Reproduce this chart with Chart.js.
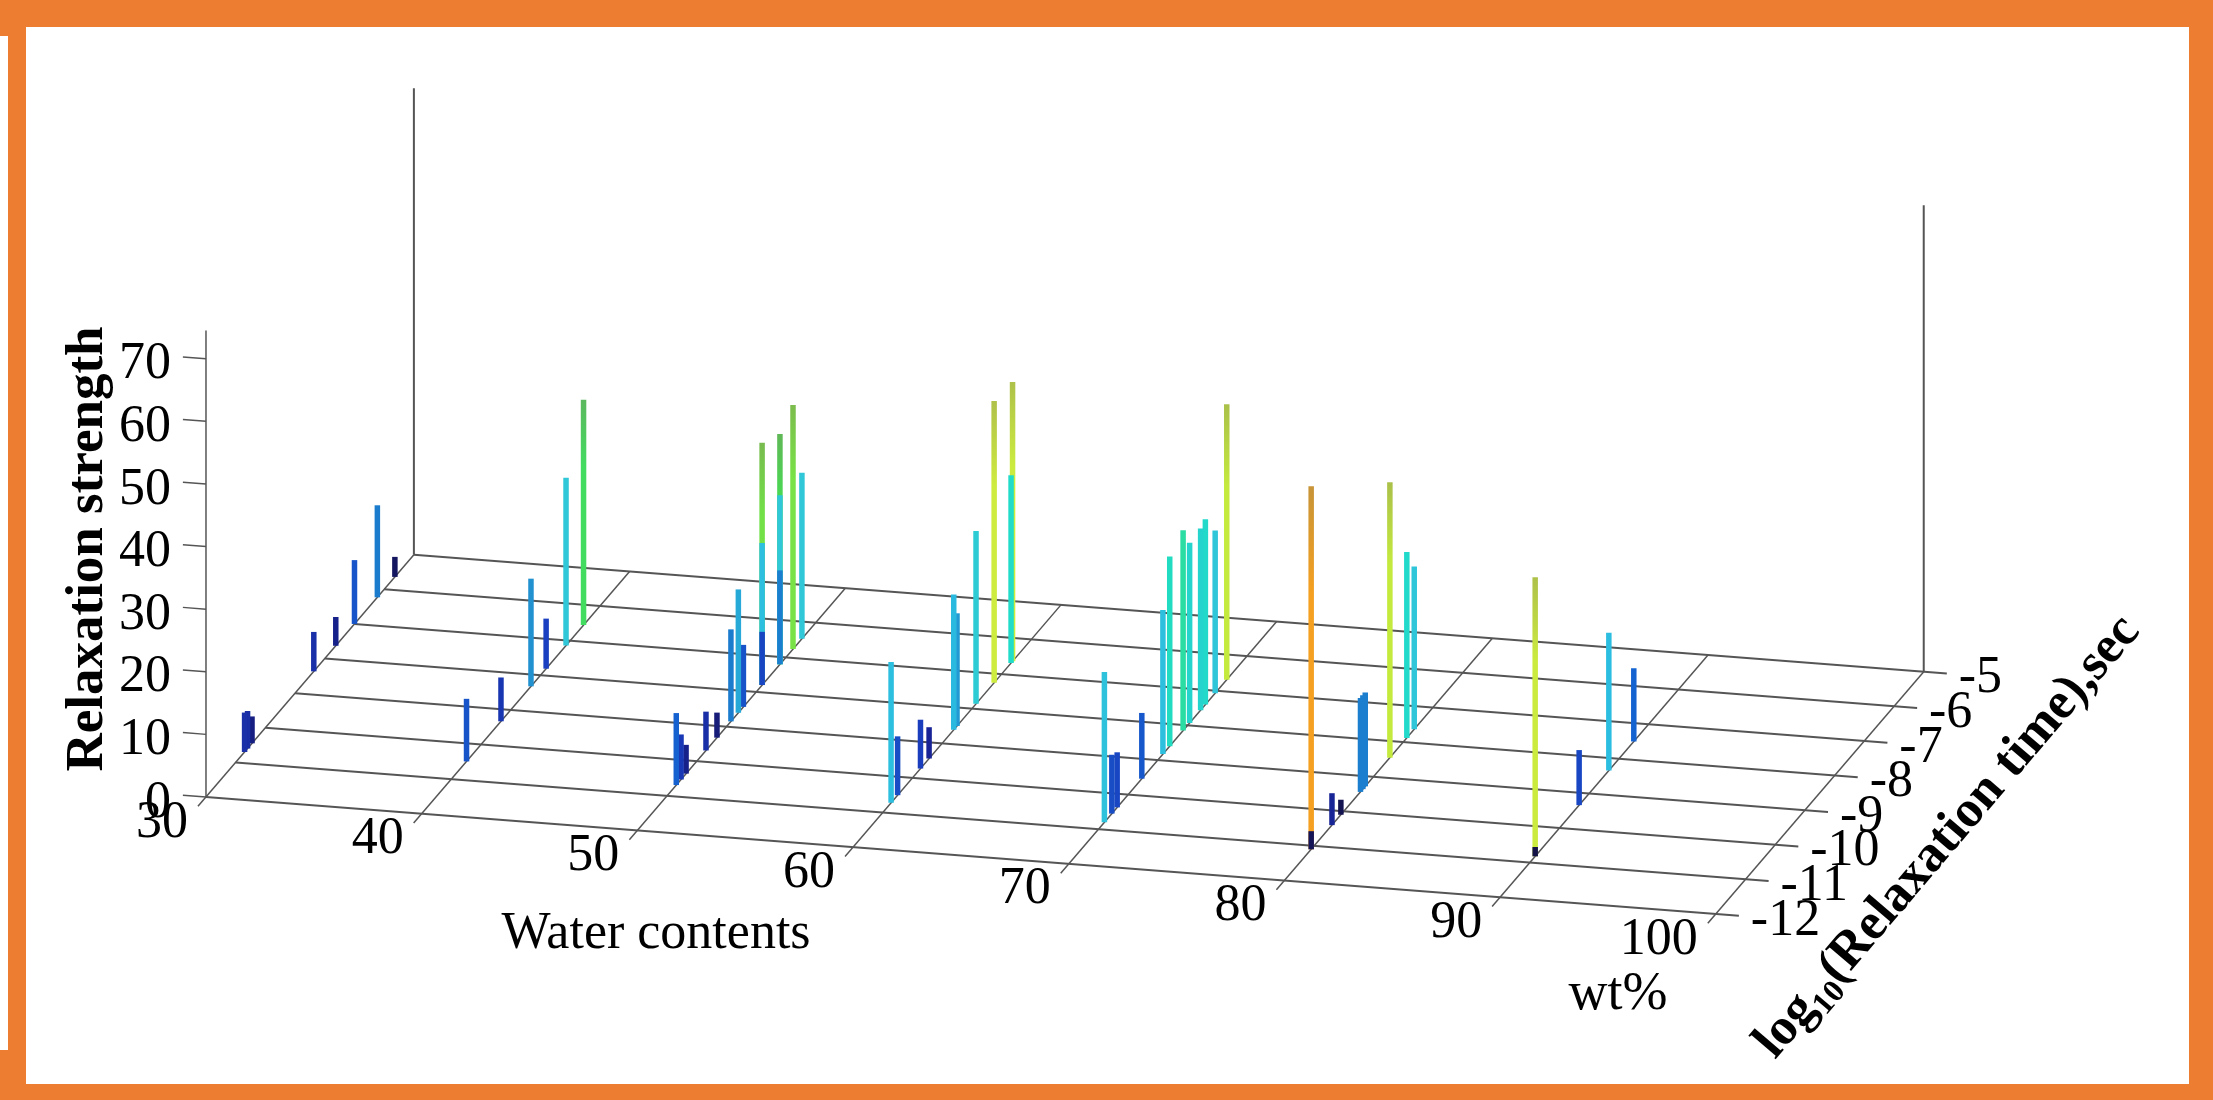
<!DOCTYPE html>
<html>
<head>
<meta charset="utf-8">
<title>Relaxation strength</title>
<script src="https://cdn.jsdelivr.net/npm/chart.js@4"></script>
<style>
  html, body { margin: 0; background: #fff; overflow: hidden; }
  .frame { position: absolute; background: #ed7d31; }
  canvas { position: absolute; left: 0; top: 0; filter: blur(0.5px); }
</style>
</head>
<body>
<div class="frame" style="left:0;top:0;width:2213px;height:27px"></div>
<div class="frame" style="left:8px;top:0;width:18px;height:1100px"></div>
<div class="frame" style="left:0;top:0;width:8px;height:36px"></div>
<div class="frame" style="left:0;top:1050px;width:8px;height:50px"></div>
<div class="frame" style="left:2189px;top:0;width:24px;height:1100px"></div>
<div class="frame" style="left:0;top:1084px;width:2213px;height:16px"></div>
<canvas id="chart" width="2213" height="1100"></canvas>

<script>
const wtTicks = [30, 40, 50, 60, 70, 80, 90, 100];
const timeTicks = [-12, -11, -10, -9, -8, -7, -6, -5];
const strengthTicks = [0, 10, 20, 30, 40, 50, 60, 70];
const axisTop = 74.5;

// one pair of arrays per water content: log10(time) and strength of each peak
const times30 = [-10.7, -10.6, -10.45, -8.37, -7.63, -7.0, -6.23, -5.64];
const strengths30 = [6.3, 6, 4.3, 6.3, 4.6, 10.2, 14.7, 3.2];
const times40 = [-10.49, -9.33, -8.32, -7.81, -7.14, -6.55];
const strengths40 = [10, 7, 17.2, 8, 26.8, 36];
const times50 = [-10.69, -10.53, -10.36, -9.69, -9.32, -8.85, -8.6, -8.43, -7.8, -7.8, -7.8, -7.2, -7.2, -7.2, -6.76, -6.46];
const strengths50 = [11.5, 7.2, 4.6, 6.2, 4, 14.7, 19.7, 9.9, 38.7, 22.7, 8.5, 36.8, 27, 15, 39, 26.5];
const times60 = [-10.72, -10.5, -9.73, -9.44, -8.61, -8.5, -7.86, -7.25, -6.63, -6.68];
const strengths60 = [22.5, 9.4, 7.8, 5, 21.6, 18, 27.6, 45, 44.6, 30];
const times70 = [-10.8, -10.55, -10.37, -9.54, -8.83, -8.6, -8.15, -7.93, -7.56, -7.4, -7.07, -6.68];
const strengths70 = [24, 9.4, 8.8, 10.5, 23, 30.3, 32, 28.8, 29, 29.6, 26, 44];
const times80 = [-11.1, -11.1, -10.4, -10.1, -9.44, -9.36, -9.28, -8.45, -7.88, -7.63];
const strengths80 = [58, 2.9, 5.1, 2.4, 15, 15, 15, 44, 29.7, 26];
const times90 = [-10.82, -10.82, -9.34, -8.34, -7.5];
const strengths90 = [44.6, 1.5, 8.8, 22, 11.7];

const peaks = [
  [30, times30, strengths30],
  [40, times40, strengths40],
  [50, times50, strengths50],
  [60, times60, strengths60],
  [70, times70, strengths70],
  [80, times80, strengths80],
  [90, times90, strengths90],
];

// the box is a parallel projection, so x stays in wt% and y in strength units
function project(wt, time, strength) {
  return {
    x: wt + (time + 12) * 1.377,
    y: strength - (wt - 30) * 0.2668 + (time + 12) * 5.527,
  };
}

const colorStops = [
  [0, [15, 15, 50]], [3, [20, 20, 90]], [5, [24, 36, 150]], [8, [26, 63, 192]], [12, [20, 102, 210]],
  [16, [31, 134, 204]], [22, [44, 190, 224]], [27, [48, 200, 216]], [30, [32, 220, 200]], [33, [48, 220, 144]],
  [37, [72, 220, 80]], [41, [168, 232, 60]], [46, [216, 236, 64]], [52, [240, 192, 48]],
  [58, [245, 160, 32]],
];

function mixAt(strength) {
  for (let i = 1; i < colorStops.length; i++) {
    const [s0, c0] = colorStops[i - 1];
    const [s1, c1] = colorStops[i];
    if (strength <= s1) {
      const f = (strength - s0) / (s1 - s0);
      return c0.map((v, k) => Math.round(v + (c1[k] - v) * f));
    }
  }
  return colorStops[colorStops.length - 1][1];
}

// the tallest stems go dull towards the tip, the rest keep one colour
function stemColor(strength) {
  const c = mixAt(strength);
  const solid = `rgb(${c.join(",")})`;
  if (strength < 36) return solid;
  return context => {
    const { chart, dataset } = context;
    if (!chart.chartArea) return solid;
    const y0 = chart.scales.y.getPixelForValue(dataset.data[1].y);
    const y1 = chart.scales.y.getPixelForValue(dataset.data[0].y);
    const g = chart.ctx.createLinearGradient(0, y0, 0, y1);
    const dull = c.map((v, k) => Math.round(v * 0.6 + [130, 130, 90][k] * 0.4));
    g.addColorStop(0, `rgb(${dull.join(",")})`);
    g.addColorStop(0.3, solid);
    g.addColorStop(1, solid);
    return g;
  };
}

function lineDataset(points, color, width) {
  return {
    data: points,
    showLine: true,
    borderColor: color,
    borderWidth: width,
    pointRadius: 0,
    borderCapStyle: "butt",
  };
}

const gridColor = "#555555";
const wtMin = wtTicks[0];
const wtMax = wtTicks[wtTicks.length - 1];
const timeMin = timeTicks[0];
const timeMax = timeTicks[timeTicks.length - 1];

const gridSets = [];
wtTicks.forEach(wt => {
  gridSets.push(lineDataset([project(wt, timeMin - 0.27, 0), project(wt, timeMax, 0)], gridColor, 1.5));
});
timeTicks.forEach(time => {
  gridSets.push(lineDataset([project(wtMin, time, 0), project(wtMax + 1.07, time, 0)], gridColor, 2));
});
strengthTicks.forEach(s => {
  gridSets.push(lineDataset([project(wtMin - 1.07, timeMin, s), project(wtMin, timeMin, s)], gridColor, 1.5));
});
gridSets.push(lineDataset([project(wtMin, timeMin, 0), project(wtMin, timeMin, axisTop)], gridColor, 1.5));
gridSets.push(lineDataset([project(wtMin, timeMax, 0), project(wtMin, timeMax, axisTop)], gridColor, 2));
gridSets.push(lineDataset([project(wtMax, timeMax, 0), project(wtMax, timeMax, axisTop)], gridColor, 2));

// back peaks first, tall layers before the short ones standing in front of them
const peakSets = [];
peaks.forEach(([wt, times, strengths]) => {
  times
    .map((time, i) => ({ time, strength: strengths[i] }))
    .sort((a, b) => b.time - a.time || b.strength - a.strength)
    .forEach(p => {
      peakSets.push(lineDataset(
        [project(wt, p.time, 0), project(wt, p.time, p.strength)],
        stemColor(p.strength),
        5.5
      ));
    });
});

// Chart.js paints the first dataset last
const datasets = gridSets.concat(peakSets).reverse();

const serif = '"Liberation Serif", "DejaVu Serif", serif';
const inkColor = "#000";

const labelsPlugin = {
  id: "boxLabels",
  afterDraw(chart) {
    const { ctx, scales } = chart;
    const px = p => [scales.x.getPixelForValue(p.x), scales.y.getPixelForValue(p.y)];

    ctx.save();
    ctx.fillStyle = inkColor;
    ctx.textBaseline = "middle";
    ctx.font = `52px ${serif}`;

    ctx.textAlign = "right";
    strengthTicks.forEach(s => {
      const [x, y] = px(project(wtMin, timeMin, s));
      ctx.fillText(String(s), x - 35, y + 6);
    });
    wtTicks.forEach(wt => {
      const [x, y] = px(project(wt, timeMin, 0));
      ctx.fillText(String(wt), x - 18, y + 26);
    });

    ctx.textAlign = "left";
    timeTicks.forEach(time => {
      const [x, y] = px(project(wtMax, time, 0));
      ctx.fillText(String(time), x + 35, y + 7);
    });

    ctx.textAlign = "center";
    ctx.font = `52px ${serif}`;
    ctx.fillText("Water contents", 656, 934);
    ctx.font = `54px ${serif}`;
    ctx.fillText("wt%", 1618, 995);

    ctx.textBaseline = "alphabetic";
    ctx.font = `bold 53px ${serif}`;
    ctx.save();
    ctx.translate(102, 549);
    ctx.rotate(-Math.PI / 2);
    ctx.fillText("Relaxation strength", 0, 0);
    ctx.restore();

    ctx.save();
    ctx.translate(1775, 1060);
    ctx.rotate(-49.5 * Math.PI / 180);
    ctx.textAlign = "left";
    ctx.font = `bold 52px ${serif}`;
    ctx.fillText("log", 0, 0);
    let offset = ctx.measureText("log").width;
    ctx.font = `bold 32px ${serif}`;
    ctx.fillText("10", offset, 10);
    offset += ctx.measureText("10").width;
    ctx.font = `bold 52px ${serif}`;
    ctx.fillText("(Relaxation time),sec", offset, 0);
    ctx.restore();

    ctx.restore();
  },
};

new Chart(document.getElementById("chart"), {
  type: "scatter",
  data: { datasets },
  options: {
    responsive: false,
    animation: false,
    layout: { padding: 0 },
    plugins: { legend: { display: false }, tooltip: { enabled: false } },
    scales: {
      x: { type: "linear", display: false, min: 20.45, max: 123.05 },
      y: { type: "linear", display: false, min: -48.4, max: 127.3 },
    },
  },
  plugins: [labelsPlugin],
});
</script>
</body>
</html>
